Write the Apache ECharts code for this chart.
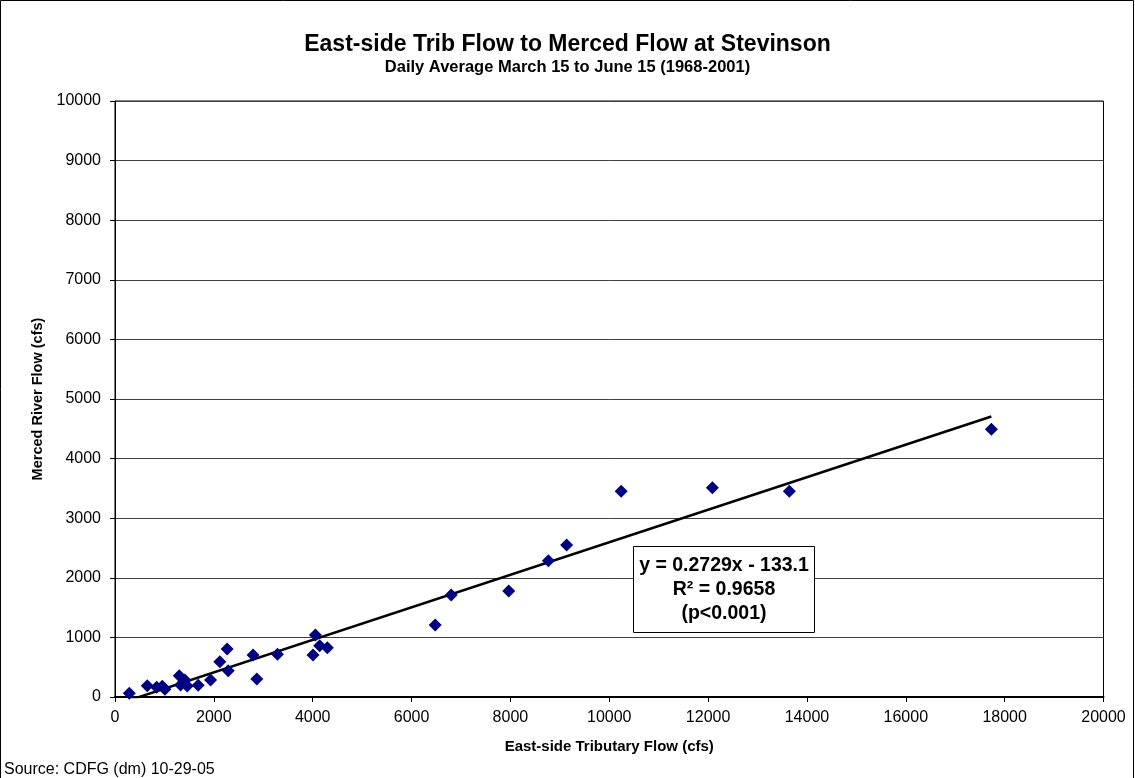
<!DOCTYPE html>
<html>
<head>
<meta charset="utf-8">
<script src="https://cdn.jsdelivr.net/npm/echarts@6/dist/echarts.min.js"></script>
<style>
html,body{margin:0;padding:0;background:#fff;}
#chart{width:1135px;height:778px;}
</style>
</head>
<body>
<div id="chart"></div>
<script>
const titleText = 'East-side Trib Flow to Merced Flow at Stevinson';
const subtitleText = 'Daily Average March 15 to June 15 (1968-2001)';
const xAxisTitle = 'East-side Tributary Flow (cfs)';
const yAxisTitle = 'Merced River Flow (cfs)';
const sourceText = 'Source: CDFG (dm) 10-29-05';

// East-side tributary flow (cfs)
const tribFlow = [289, 653, 842, 956, 1010, 1300, 1327, 1414, 1461, 1683, 1933, 2121, 2269, 2290, 2794, 2869, 3286, 4006, 4054, 4141, 4296, 6478, 6802, 7966, 8768, 9138, 10242, 12087, 13643, 17731];
// Merced River flow (cfs)
const mercedFlow = [62, 190, 163, 180, 129, 357, 201, 285, 185, 196, 285, 592, 805, 441, 705, 302, 716, 705, 1040, 861, 827, 1208, 1711, 1779, 2287, 2550, 3451, 3512, 3451, 4492];

const trendSlope = 0.2729;
const trendIntercept = -133.1;
const eqLines = ['y = 0.2729x - 133.1', 'R\u00B2 = 0.9658', '(p<0.001)'];

const FONT = '"Liberation Sans", Arial, sans-serif';

const points = tribFlow.map((x, i) => [x, mercedFlow[i]]);
const xMin = Math.min(...tribFlow), xMax = Math.max(...tribFlow);
const trend = [[xMin, trendSlope * xMin + trendIntercept], [xMax, trendSlope * xMax + trendIntercept]];

const plain = v => String(v);

const chart = echarts.init(document.getElementById('chart'), null, {renderer: 'canvas'});
chart.setOption({
  backgroundColor: '#fff',
  animation: false,
  title: [
    {text: titleText, left: 'center', top: 33, padding: 0, textStyle: {fontFamily: FONT, fontSize: 23, fontWeight: 'bold', color: '#000'}},
    {text: subtitleText, left: 'center', top: 59, padding: 0, textStyle: {fontFamily: FONT, fontSize: 16.5, fontWeight: 'bold', color: '#000'}},
    {text: sourceText, left: 4, top: 762, padding: 0, textStyle: {fontFamily: FONT, fontSize: 16, fontWeight: 'normal', color: '#000'}}
  ],
  grid: {left: 115, right: 31.5, top: 101, bottom: 81, show: true, borderColor: '#000', borderWidth: 1, backgroundColor: '#fff'},
  xAxis: {
    type: 'value', min: 0, max: 20000, interval: 2000,
    name: xAxisTitle, nameLocation: 'middle', nameGap: 42,
    nameTextStyle: {fontFamily: FONT, fontSize: 15, fontWeight: 'bold', color: '#000'},
    axisLine: {show: true, lineStyle: {color: '#000', width: 2}},
    axisTick: {show: true, inside: false, length: 5, lineStyle: {color: '#000'}},
    axisLabel: {fontFamily: FONT, fontSize: 16, color: '#000', margin: 13, formatter: plain},
    splitLine: {show: false}
  },
  yAxis: {
    type: 'value', min: 0, max: 10000, interval: 1000,
    name: yAxisTitle, nameLocation: 'middle', nameGap: 70, nameRotate: 90,
    nameTextStyle: {fontFamily: FONT, fontSize: 14.5, fontWeight: 'bold', color: '#000'},
    axisLine: {show: true, lineStyle: {color: '#000', width: 1}},
    axisTick: {show: true, inside: false, length: 5, lineStyle: {color: '#000'}},
    axisLabel: {fontFamily: FONT, fontSize: 16, color: '#000', margin: 14, formatter: plain},
    splitLine: {show: true, lineStyle: {color: '#404040', width: 1}}
  },
  series: [
    {
      type: 'line', data: trend, symbol: 'none', clip: true, silent: true,
      lineStyle: {color: '#000', width: 2.5}, z: 3
    },
    {
      type: 'scatter', data: points, symbol: 'diamond', symbolSize: 13,
      itemStyle: {color: '#000080', opacity: 1}, z: 4
    }
  ],
  graphic: [
    {type: 'rect', shape: {x: 0.5, y: 0.5, width: 1133, height: 800}, style: {fill: 'none', stroke: '#000', lineWidth: 1}, silent: true, z: 100},
    {type: 'rect', shape: {x: 633.5, y: 546.5, width: 181, height: 86}, style: {fill: '#fff', stroke: '#000', lineWidth: 1}, z: 50},
    {type: 'text', x: 724, y: 566, style: {text: eqLines[0], font: 'bold 19.5px ' + FONT, fill: '#000', align: 'center', verticalAlign: 'middle'}, z: 51},
    {type: 'text', x: 724, y: 590, style: {text: eqLines[1], font: 'bold 19.5px ' + FONT, fill: '#000', align: 'center', verticalAlign: 'middle'}, z: 51},
    {type: 'text', x: 724, y: 614, style: {text: eqLines[2], font: 'bold 19.5px ' + FONT, fill: '#000', align: 'center', verticalAlign: 'middle'}, z: 51}
  ]
});
</script>
</body>
</html>
